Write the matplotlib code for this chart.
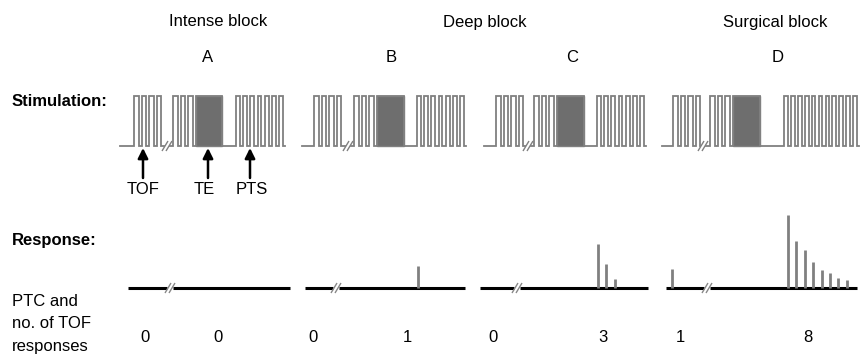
import matplotlib
matplotlib.use('Agg')
import matplotlib.pyplot as plt
from matplotlib.patches import Rectangle

# ---- data ----
block_titles = ['Intense block', 'Deep block', 'Surgical block']
panel_letters = ['A', 'B', 'C', 'D']
tof_pulses = [4, 4, 4, 4]
pre_tet_pulses = [3, 3, 3, 3]
pts_pulses = [7, 7, 7, 11]
tof_responses = [0, 0, 0, 1]
ptc_counts = [0, 1, 3, 8]
tof_amp = [[], [], [], [19]]
ptc_amp = [[], [22], [44, 24, 9], [73, 47, 38, 26, 18, 15, 10, 8]]
arrow_labels = ['TOF', 'TE', 'PTS']

# ---- layout (pixels) ----
W, H = 864, 356
title_x = [218, 485, 775]
letter_x = [208, 391, 572, 778]
stim_start = [120, 302, 484, 662]
g1_x = [134, 314, 496, 673]
brk_x = [167, 348, 528, 703]
g2_x = [173, 354, 534, 710]
tet_x = [196, 377, 557, 733]
tet_end = [222, 404, 584, 760]
pts_x = [236, 417, 597, 784]
stim_end = [285, 466, 646, 859]
resp_start = [128, 305, 480, 666]
resp_end = [290, 465, 648, 857]
resp_brk = [170, 336, 517, 707]
ptc_x0 = [None, 418, 598, 788]
num_x = [(145, 218), (313, 407), (493, 603), (680, 808)]
arrow_x = [143, 208, 250]

y_top, y_base = 96, 146
r_base = 288
stim_col = '#808080'
tet_col = '#6e6e6e'
FONT = 'Liberation Sans'

fig = plt.figure(figsize=(W / 100, H / 100), dpi=100)
ax = fig.add_axes([0, 0, 1, 1])
ax.set_xlim(0, W)
ax.set_ylim(H, 0)
ax.axis('off')

def txt(x, y, s, **kw):
    kw.setdefault('fontsize', 12)
    ax.text(x, y, s, family=FONT, va='center', **kw)

for t, x in zip(block_titles, title_x):
    txt(x, 22, t, ha='center')
for t, x in zip(panel_letters, letter_x):
    txt(x, 58, t, ha='center')
txt(12, 101, 'Stimulation:', ha='left', fontweight='bold')
txt(12, 240, 'Response:', ha='left', fontweight='bold')
txt(12, 301, 'PTC and', ha='left')
txt(12, 324, 'no. of TOF', ha='left')
txt(12, 347, 'responses', ha='left')


def pulses(x0, n, period, width):
    xs, ys = [], []
    for i in range(n):
        a = x0 + i * period
        xs += [a, a, a + width, a + width]
        ys += [y_base, y_top, y_top, y_base]
    return xs, ys


def slashes(xc, yc, col, lw=1.0):
    for dx in (-2, 2):
        ax.plot([xc + dx - 3, xc + dx + 3], [yc + 5, yc - 5], color=col, lw=lw,
                solid_capstyle='butt', zorder=5)


for p in range(4):
    # stimulation part 1: baseline + TOF group
    xs, ys = pulses(g1_x[p], tof_pulses[p], 7.5, 4.5)
    xs = [stim_start[p]] + xs + [brk_x[p] - 3]
    ys = [y_base] + ys + [y_base]
    ax.plot(xs, ys, color=stim_col, lw=1.3, solid_joinstyle='miter')
    slashes(brk_x[p], y_base, stim_col)
    # part 2: pre-tetanic pulses, tetanus, PTS
    xs, ys = pulses(g2_x[p], pre_tet_pulses[p], 7.5, 4.5)
    xs = [brk_x[p] + 3] + xs + [tet_x[p], tet_x[p], tet_end[p], tet_end[p]]
    ys = [y_base] + ys + [y_base, y_top, y_top, y_base]
    n = pts_pulses[p]
    pw = 3.8
    per = (stim_end[p] - 2 - pts_x[p] - pw) / (n - 1)
    px, py = pulses(pts_x[p], n, per, pw)
    xs += px + [stim_end[p]]
    ys += py + [y_base]
    ax.plot(xs, ys, color=stim_col, lw=1.3, solid_joinstyle='miter')
    ax.add_patch(Rectangle((tet_x[p], y_top), tet_end[p] - tet_x[p], y_base - y_top,
                           facecolor=tet_col, edgecolor=stim_col, lw=1.0))

    # response
    ax.plot([resp_start[p], resp_brk[p] - 3], [r_base, r_base], color='black', lw=2.2,
            solid_capstyle='butt')
    ax.plot([resp_brk[p] + 3, resp_end[p]], [r_base, r_base], color='black', lw=2.2,
            solid_capstyle='butt')
    slashes(resp_brk[p], r_base, '#888888', lw=1.0)
    for i, a in enumerate(tof_amp[p]):
        x = g1_x[p] - 1 + i * 7.5
        ax.plot([x, x], [r_base, r_base - a], color='#808080', lw=2.0, solid_capstyle='butt')
    for i, a in enumerate(ptc_amp[p]):
        x = ptc_x0[p] + i * 8.4
        ax.plot([x, x], [r_base, r_base - a], color='#808080', lw=2.0, solid_capstyle='butt')

    # numbers
    txt(num_x[p][0], 338, str(tof_responses[p]), ha='center')
    txt(num_x[p][1], 338, str(ptc_counts[p]), ha='center')

# arrows
for x, lab in zip(arrow_x, arrow_labels):
    ax.annotate('', xy=(x, 148), xytext=(x, 178),
                arrowprops=dict(arrowstyle='-|>,head_length=0.6,head_width=0.3',
                                color='black', lw=1.8, shrinkA=0, shrinkB=0))
txt(143, 190, 'TOF', ha='center')
txt(204, 190, 'TE', ha='center')
txt(252, 190, 'PTS', ha='center')

fig.savefig('out.png', dpi=100)
